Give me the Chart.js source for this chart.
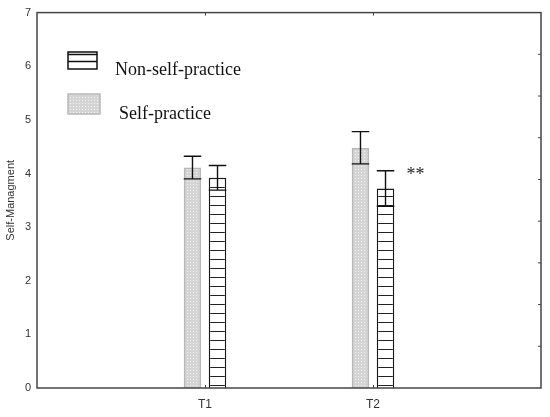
<!DOCTYPE html>
<html>
<head>
<meta charset="utf-8">
<script src="https://cdn.jsdelivr.net/npm/chart.js@4/dist/chart.umd.min.js"></script>
<style>
  html, body { margin: 0; padding: 0; background: #fff; }
  #wrap { width: 550px; height: 417px; }
</style>
</head>
<body>
<div id="wrap"><canvas id="c" width="550" height="417"></canvas></div>
<script>
// ---- data ----
const categories = ['T1', 'T2'];
const seriesNames = ['Self-practice', 'Non-self-practice'];
const selfMeans = [4.11, 4.48];
const selfErrors = [0.21, 0.30];
const nonSelfMeans = [3.92, 3.72];
const nonSelfErrors = [0.23, 0.33];
const yTicks = [0, 1, 2, 3, 4, 5, 6, 7];
const yTitle = 'Self-Managment';
const significance = ['', '**'];

// ---- patterns ----
function dotPattern() {
  const c = document.createElement('canvas');
  c.width = 3; c.height = 3;
  const g = c.getContext('2d');
  g.fillStyle = '#d4d4d4'; g.fillRect(0, 0, 3, 3);
  g.fillStyle = '#f4f4f4'; g.fillRect(1, 1, 1, 1);
  return g.createPattern(c, 'repeat');
}
function hatchPattern() {
  const c = document.createElement('canvas');
  c.width = 8; c.height = 9;
  const g = c.getContext('2d');
  g.fillStyle = '#ffffff'; g.fillRect(0, 0, 8, 9);
  g.fillStyle = '#222222'; g.fillRect(0, 7, 8, 1);
  return g.createPattern(c, 'repeat');
}
const selfFill = dotPattern();
const nonSelfFill = hatchPattern();

const toPoints = (arr) => arr.map((v, i) => ({ x: i + 1, y: v }));

const decorations = {
  id: 'decorations',
  afterDatasetsDraw(chart) {
    const ctx = chart.ctx;
    const ys = chart.scales.y;
    ctx.save();
    ctx.strokeStyle = '#111';
    ctx.lineWidth = 1.4;
    chart.data.datasets.forEach((ds, di) => {
      const meta = chart.getDatasetMeta(di);
      meta.data.forEach((bar, i) => {
        const m = ds.data[i].y, e = ds.errors[i];
        const top = ys.getPixelForValue(m + e);
        const bot = ys.getPixelForValue(m - e);
        const half = bar.width / 2;
        ctx.beginPath();
        ctx.moveTo(bar.x, top); ctx.lineTo(bar.x, bot);
        ctx.moveTo(bar.x - half, top); ctx.lineTo(bar.x + half, top);
        ctx.moveTo(bar.x - half, bot); ctx.lineTo(bar.x + half, bot);
        ctx.stroke();
        if (ds.marks && ds.marks[i]) {
          ctx.fillStyle = '#222';
          ctx.font = '18px "Liberation Serif", "Times New Roman", serif';
          ctx.textAlign = 'left';
          ctx.textBaseline = 'alphabetic';
          ctx.fillText(ds.marks[i], bar.x + 21, top + 9);
        }
      });
    });
    ctx.restore();
  },
  afterDraw(chart) {
    const ctx = chart.ctx;
    const a = chart.chartArea;
    const xs = chart.scales.x;
    ctx.save();
    // frame
    ctx.strokeStyle = '#444';
    ctx.lineWidth = 1.5;
    ctx.strokeRect(a.left, a.top, a.right - a.left, a.bottom - a.top);
    // category ticks top and bottom (inward)
    ctx.lineWidth = 1;
    categories.forEach((c, i) => {
      const x = Math.round(xs.getPixelForValue(i + 1)) + 0.5;
      ctx.beginPath();
      ctx.moveTo(x, a.top); ctx.lineTo(x, a.top + 3);
      ctx.moveTo(x, a.bottom); ctx.lineTo(x, a.bottom - 3);
      ctx.stroke();
    });
    // right side inward ticks
    for (let k = 1; k < 9; k++) {
      const y = a.top + (a.bottom - a.top) * k / 9;
      ctx.beginPath();
      ctx.moveTo(a.right, y); ctx.lineTo(a.right - 3, y);
      ctx.stroke();
    }
    // legend
    const items = [
      { ds: chart.data.datasets[1], box: [68, 52, 29, 17], tx: 115, ty: 75 },
      { ds: chart.data.datasets[0], box: [68, 94, 32, 20], tx: 119, ty: 119 }
    ];
    items.forEach((it, k) => {
      const [bx, by, bw, bh] = it.box;
      if (k === 0) {
        ctx.fillStyle = '#fff'; ctx.fillRect(bx, by, bw, bh);
        ctx.strokeStyle = '#111'; ctx.lineWidth = 1.5;
        ctx.strokeRect(bx, by, bw, bh);
        ctx.beginPath();
        ctx.moveTo(bx, by + 2.5); ctx.lineTo(bx + bw, by + 2.5);
        ctx.moveTo(bx, by + 9.5); ctx.lineTo(bx + bw, by + 9.5);
        ctx.stroke();
      } else {
        ctx.fillStyle = selfFill; ctx.fillRect(bx, by, bw, bh);
        ctx.strokeStyle = '#b8b8b8'; ctx.lineWidth = 1.5;
        ctx.strokeRect(bx, by, bw, bh);
      }
      ctx.fillStyle = '#111';
      ctx.font = '18px "Liberation Serif", "Times New Roman", serif';
      ctx.textAlign = 'left';
      ctx.textBaseline = 'alphabetic';
      ctx.fillText(it.ds.label, it.tx, it.ty);
    });
    ctx.restore();
  }
};

new Chart(document.getElementById('c'), {
  type: 'bar',
  data: {
    datasets: [
      {
        label: seriesNames[0],
        data: toPoints(selfMeans),
        errors: selfErrors,
        backgroundColor: selfFill,
        borderColor: '#b8b8b8',
        borderWidth: 2,
        categoryPercentage: 0.298,
        barPercentage: 0.7
      },
      {
        label: seriesNames[1],
        data: toPoints(nonSelfMeans),
        errors: nonSelfErrors,
        marks: significance,
        backgroundColor: nonSelfFill,
        borderColor: '#1a1a1a',
        borderWidth: 1.5,
        categoryPercentage: 0.298,
        barPercentage: 0.7
      }
    ]
  },
  options: {
    responsive: false,
    animation: false,
    devicePixelRatio: 1,
    layout: { padding: { left: 0, right: 9, top: 12, bottom: 0 } },
    plugins: { legend: { display: false }, tooltip: { enabled: false } },
    scales: {
      x: {
        type: 'linear',
        min: 0,
        max: categories.length + 1,
        offset: false,
        grid: { display: false, drawTicks: false },
        border: { display: false },
        afterBuildTicks: (s) => { s.ticks = categories.map((c, i) => ({ value: i + 1 })); },
        afterFit: (s) => { s.height = 29; },
        ticks: {
          autoSkip: false,
          maxRotation: 0,
          padding: 9,
          color: '#333',
          font: { family: '"Liberation Sans", Arial, sans-serif', size: 12 },
          callback: (v) => categories[v - 1] || ''
        }
      },
      y: {
        min: yTicks[0],
        max: yTicks[yTicks.length - 1],
        grid: { display: false, drawTicks: false },
        border: { display: false },
        afterBuildTicks: (s) => { s.ticks = yTicks.map(v => ({ value: v })); },
        afterFit: (s) => { s.width = 37; },
        ticks: {
          padding: 6,
          color: '#333',
          font: { family: '"Liberation Sans", Arial, sans-serif', size: 11 }
        },
        title: {
          display: true,
          text: yTitle,
          color: '#333',
          padding: { top: 4, bottom: 0 },
          font: { family: '"Liberation Sans", Arial, sans-serif', size: 11 }
        }
      }
    }
  },
  plugins: [decorations]
});
</script>
</body>
</html>
